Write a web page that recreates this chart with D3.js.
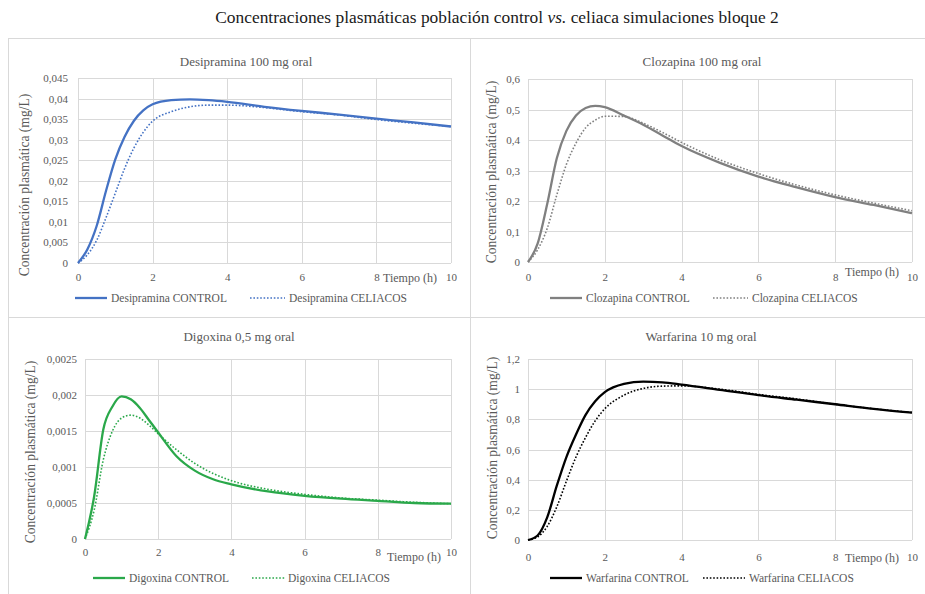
<!DOCTYPE html>
<html>
<head>
<meta charset="utf-8">
<script src="https://cdn.jsdelivr.net/npm/d3@7"></script>
<style>
  html, body { margin: 0; padding: 0; background: #fff; }
  svg { display: block; }
</style>
</head>
<body>
<svg id="chart" width="925" height="594"></svg>
<script>
// ---------------- DATA ----------------
const mainTitleA = "Concentraciones plasmáticas población control ";
const mainTitleB = "vs.";
const mainTitleC = " celiaca simulaciones bloque 2";

const tiempo = [0, 0.25, 0.5, 0.75, 1, 1.25, 1.5, 1.75, 2, 2.5, 3, 3.5, 4, 5, 6, 7, 8, 9, 10];
const xTicks = [0, 2, 4, 6, 8, 10];

const desipraminaControl  = [0, 0.0033, 0.009, 0.0175, 0.0252, 0.0307, 0.0346, 0.0371, 0.0386, 0.0396, 0.0398, 0.0396, 0.0392, 0.038, 0.037, 0.0361, 0.0351, 0.0342, 0.0332];
const desipraminaCeliacos = [0, 0.002, 0.0055, 0.011, 0.017, 0.023, 0.028, 0.0318, 0.0345, 0.0368, 0.038, 0.0384, 0.0384, 0.0378, 0.0368, 0.036, 0.0349, 0.034, 0.0332];
const desipraminaTicks = [0, 0.005, 0.01, 0.015, 0.02, 0.025, 0.03, 0.035, 0.04, 0.045];

const clozapinaControl  = [0, 0.06, 0.19, 0.34, 0.43, 0.48, 0.505, 0.512, 0.508, 0.48, 0.45, 0.415, 0.38, 0.325, 0.28, 0.245, 0.213, 0.187, 0.16];
const clozapinaCeliacos = [0, 0.04, 0.11, 0.22, 0.32, 0.39, 0.44, 0.465, 0.478, 0.477, 0.455, 0.425, 0.392, 0.335, 0.29, 0.252, 0.22, 0.193, 0.168];
const clozapinaTicks = [0, 0.1, 0.2, 0.3, 0.4, 0.5, 0.6];

const digoxinaControl  = [0, 0.00059, 0.00152, 0.00184, 0.00198, 0.00194, 0.00182, 0.00165, 0.00148, 0.00115, 0.00095, 0.00083, 0.00076, 0.00066, 0.0006, 0.00056, 0.00053, 0.0005, 0.00049];
const digoxinaCeliacos = [0, 0.0004, 0.0011, 0.0015, 0.00168, 0.00172, 0.00168, 0.00158, 0.00146, 0.00124, 0.00105, 0.00091, 0.00081, 0.00069, 0.00062, 0.00057, 0.00054, 0.00051, 0.00049];
const digoxinaTicks = [0, 0.0005, 0.001, 0.0015, 0.002, 0.0025];

const warfarinaControl  = [0, 0.03, 0.15, 0.36, 0.55, 0.7, 0.83, 0.92, 0.98, 1.035, 1.05, 1.045, 1.03, 0.995, 0.96, 0.93, 0.9, 0.87, 0.845];
const warfarinaCeliacos = [0, 0.02, 0.09, 0.22, 0.39, 0.55, 0.68, 0.79, 0.87, 0.96, 1.005, 1.02, 1.022, 1.0, 0.965, 0.935, 0.9, 0.87, 0.845];
const warfarinaTicks = [0, 0.2, 0.4, 0.6, 0.8, 1, 1.2];

const panelTitles = ["Desipramina 100 mg oral", "Clozapina 100 mg oral", "Digoxina 0,5 mg oral", "Warfarina 10 mg oral"];
const legendControl = ["Desipramina CONTROL", "Clozapina CONTROL", "Digoxina CONTROL", "Warfarina CONTROL"];
const legendCeliacos = ["Desipramina CELIACOS", "Clozapina CELIACOS", "Digoxina CELIACOS", "Warfarina CELIACOS"];
const yAxisTitle = "Concentración plasmática (mg/L)";
const xAxisTitle = "Tiempo (h)";

// ---------------- LAYOUT ----------------
const FONT = "Liberation Serif";
const panels = [
  { title: panelTitles[0], ctrl: desipraminaControl, cel: desipraminaCeliacos, ticks: desipraminaTicks,
    color: "#4472c4", plot: [78, 451, 78, 263], titleXY: [246, 66], ylab: [29, 185], tickRight: 68, xTickY: 282,
    xt: [383, 282], legY: 298, leg: [75, 107, 111, 250, 285, 289], legCtrl: legendControl[0], legCel: legendCeliacos[0] },
  { title: panelTitles[1], ctrl: clozapinaControl, cel: clozapinaCeliacos, ticks: clozapinaTicks,
    color: "#808080", plot: [528, 912, 79, 262], titleXY: [702, 66], ylab: [496, 172], tickRight: 520, xTickY: 282,
    xt: [845, 276], legY: 298, leg: [550, 582, 586, 713, 748, 752], legCtrl: legendControl[1], legCel: legendCeliacos[1] },
  { title: panelTitles[2], ctrl: digoxinaControl, cel: digoxinaCeliacos, ticks: digoxinaTicks,
    color: "#2aa84a", plot: [85, 451, 359, 539], titleXY: [239, 341], ylab: [35, 452], tickRight: 77, xTickY: 557,
    xt: [387, 561], legY: 578, leg: [93, 125, 129, 252, 285, 288], legCtrl: legendControl[2], legCel: legendCeliacos[2] },
  { title: panelTitles[3], ctrl: warfarinaControl, cel: warfarinaCeliacos, ticks: warfarinaTicks,
    color: "#000000", plot: [528, 912, 359, 540], titleXY: [701, 341], ylab: [497, 448], tickRight: 520, xTickY: 562,
    xt: [845, 562], legY: 578, leg: [550, 582, 586, 703, 745, 749], legCtrl: legendControl[3], legCel: legendCeliacos[3] }
];

const svg = d3.select("#chart");
const gridColor = "#d9d9d9";
const textColor = "#595959";

// Main title
const mt = svg.append("text").attr("x", 497).attr("y", 23).attr("text-anchor", "middle")
  .style("font-family", FONT).style("font-size", "17.4px").attr("fill", "#1a1a1a");
mt.append("tspan").style("font-family", FONT).text(mainTitleA);
mt.append("tspan").style("font-family", FONT).style("font-style", "italic").text(mainTitleB);
mt.append("tspan").style("font-family", FONT).text(mainTitleC);

// Panel borders
svg.append("rect").attr("x", 8.5).attr("y", 38.5).attr("width", 1000).attr("height", 1000)
  .attr("fill", "none").attr("stroke", gridColor);
svg.append("line").attr("x1", 8).attr("x2", 925).attr("y1", 317.5).attr("y2", 317.5).attr("stroke", gridColor);
svg.append("line").attr("x1", 470.5).attr("x2", 470.5).attr("y1", 38).attr("y2", 594).attr("stroke", gridColor);

const fmt = v => String(+v.toFixed(6)).replace(".", ",");

panels.forEach(p => {
  const [x0, x1, yTop, yBot] = p.plot;
  const x = d3.scaleLinear().domain([0, 10]).range([x0, x1]);
  const y = d3.scaleLinear().domain([0, p.ticks[p.ticks.length - 1]]).range([yBot, yTop]);
  const g = svg.append("g");

  // gridlines
  g.append("g").selectAll("line").data(p.ticks).join("line")
    .attr("x1", x0).attr("x2", x1).attr("y1", d => Math.round(y(d)) + 0.5).attr("y2", d => Math.round(y(d)) + 0.5)
    .attr("stroke", gridColor).attr("stroke-width", 1);
  g.append("g").selectAll("line").data(xTicks).join("line")
    .attr("y1", yTop).attr("y2", yBot).attr("x1", d => Math.round(x(d)) + 0.5).attr("x2", d => Math.round(x(d)) + 0.5)
    .attr("stroke", gridColor).attr("stroke-width", 1);

  // y axis labels
  const yAxis = d3.axisLeft(y).tickValues(p.ticks).tickFormat(fmt).tickSize(0).tickPadding(0);
  const ya = g.append("g").attr("transform", `translate(${p.tickRight},0)`).call(yAxis);
  ya.attr("font-family", null).attr("font-size", null);
  ya.select(".domain").remove();
  ya.selectAll("text").style("font-family", FONT).style("font-size", "11px").attr("fill", textColor);

  // x axis labels
  const xAxis = d3.axisBottom(x).tickValues(xTicks).tickFormat(d => String(d)).tickSize(0).tickPadding(0);
  const xa = g.append("g").attr("transform", `translate(0,${p.xTickY - 9})`).call(xAxis);
  xa.attr("font-family", null).attr("font-size", null);
  xa.select(".domain").remove();
  xa.selectAll("text").style("font-family", FONT).style("font-size", "11px").attr("fill", textColor);

  // titles
  g.append("text").attr("x", p.titleXY[0]).attr("y", p.titleXY[1]).attr("text-anchor", "middle")
    .style("font-family", FONT).style("font-size", "13px").attr("fill", textColor).text(p.title);
  g.append("text").attr("transform", `translate(${p.ylab[0]},${p.ylab[1]}) rotate(-90)`)
    .attr("text-anchor", "middle").style("font-family", FONT).style("font-size", "13.6px").attr("fill", textColor).text(yAxisTitle);
  g.append("text").attr("x", p.xt[0]).attr("y", p.xt[1]).style("font-family", FONT).style("font-size", "12px")
    .attr("fill", textColor).text(xAxisTitle);

  // lines
  const line = d3.line().x((d, i) => x(tiempo[i])).y(d => y(d)).curve(d3.curveMonotoneX);
  g.append("path").attr("d", line(p.cel)).attr("fill", "none").attr("stroke", p.color)
    .attr("stroke-width", 1.6).attr("stroke-dasharray", "1.6,1.8");
  g.append("path").attr("d", line(p.ctrl)).attr("fill", "none").attr("stroke", p.color)
    .attr("stroke-width", 2.3).attr("stroke-linejoin", "round");

  // legend
  const L = p.leg;
  g.append("line").attr("x1", L[0]).attr("x2", L[1]).attr("y1", p.legY).attr("y2", p.legY)
    .attr("stroke", p.color).attr("stroke-width", 2.3);
  g.append("text").attr("x", L[2]).attr("y", p.legY + 4).style("font-family", FONT).style("font-size", "11.5px")
    .attr("fill", textColor).text(p.legCtrl);
  g.append("line").attr("x1", L[3]).attr("x2", L[4]).attr("y1", p.legY).attr("y2", p.legY)
    .attr("stroke", p.color).attr("stroke-width", 1.6).attr("stroke-dasharray", "1.6,1.8");
  g.append("text").attr("x", L[5]).attr("y", p.legY + 4).style("font-family", FONT).style("font-size", "11.5px")
    .attr("fill", textColor).text(p.legCel);
});
</script>
</body>
</html>
